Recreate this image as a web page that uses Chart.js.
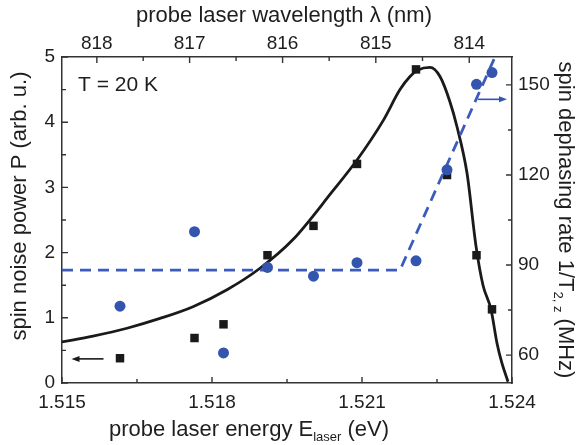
<!DOCTYPE html>
<html>
<head>
<meta charset="utf-8">
<script src="https://cdn.jsdelivr.net/npm/chart.js@4.4.1/dist/chart.umd.min.js"></script>
<style>
  html, body { margin: 0; padding: 0; background: #fff; }
  canvas { display: block; }
</style>
</head>
<body>
<canvas id="chart" width="583" height="445"></canvas>
<script>
// probe energies (eV), same for both measured quantities
const energy = [1.51616, 1.51765, 1.51823, 1.51911, 1.52003, 1.52090, 1.52208, 1.52270, 1.52329, 1.52360];
const noisePower = [0.38, 0.69, 0.90, 1.96, 2.41, 3.36, 4.81, 3.19, 1.96, 1.13];
const dephasingRate = [76.3, 101.1, 60.7, 89.2, 86.3, 90.8, 91.4, 121.7, 150.2, 154.1];

// fitted noise power curve
const fitEnergy = [1.51500, 1.51562, 1.51630, 1.51696, 1.51762, 1.51830, 1.51896, 1.51962, 1.52042, 1.52090,
                   1.52142, 1.52176, 1.52196, 1.52212, 1.52236, 1.52256, 1.52276, 1.52290, 1.52310, 1.52328,
                   1.52342, 1.52358, 1.52370, 1.52380, 1.52392];
const fitPower = [0.63, 0.72, 0.84, 0.99, 1.17, 1.43, 1.76, 2.20, 2.95, 3.42,
                  4.02, 4.50, 4.70, 4.80, 4.84, 4.70, 4.31, 3.93, 3.22, 2.10,
                  1.50, 1.13, 0.61, 0.30, 0.02];

// dashed guide for the dephasing rate
const guideEnergy = [1.51500, 1.52176, 1.52366];
const guideRate = [88.3, 88.3, 159.3];

// axis arrows [energy, value]
const powerArrow = [[1.51583, 0.37], [1.51519, 0.37]];
const rateArrow = [[1.52332, 145.2], [1.52390, 145.2]];

// ticks
const energyTicks = [1.515, 1.518, 1.521, 1.524];
const energyMinor = [1.5165, 1.5195, 1.5225];
const wavelengthTicks = [818, 817, 816, 815, 814];
const wavelengthMinor = [817.5, 816.5, 815.5, 814.5];
const powerTicks = [0, 1, 2, 3, 4, 5];
const powerMinor = [0.5, 1.5, 2.5, 3.5, 4.5];
const rateTicks = [60, 90, 120, 150];
const rateMinor = [75, 105, 135];

const HC = 1239.84; // eV nm
const FONT = "'Liberation Sans', Arial, sans-serif";
const TEXT = '#1e1e1e';
const AXIS = '#333333';
const BLUE = '#3455ad';
const BLACK = '#1a1a1a';

const pts = (xs, ys) => xs.map((x, i) => ({ x: x, y: ys[i] }));

// draws a row of text pieces (for subscripts) centred on cx,cy
function drawRuns(ctx, runs, cx, cy, angle) {
    ctx.save();
    ctx.translate(cx, cy);
    ctx.rotate(angle);
    let total = 0;
    for (let r of runs) {
        ctx.font = r.size + 'px ' + FONT;
        r.w = ctx.measureText(r.t).width;
        total += r.w;
    }
    let x = -total / 2;
    ctx.fillStyle = TEXT;
    ctx.textBaseline = 'alphabetic';
    ctx.textAlign = 'left';
    for (let r of runs) {
        ctx.font = r.size + 'px ' + FONT;
        ctx.fillText(r.t, x, r.dy || 0);
        x += r.w;
    }
    ctx.restore();
}

function drawArrow(ctx, sx, sy, ends, color) {
    let x0 = sx.getPixelForValue(ends[0][0]), y0 = sy.getPixelForValue(ends[0][1]);
    let x1 = sx.getPixelForValue(ends[1][0]), y1 = sy.getPixelForValue(ends[1][1]);
    let dir = Math.sign(x1 - x0);
    ctx.save();
    ctx.strokeStyle = color;
    ctx.fillStyle = color;
    ctx.lineWidth = 1.6;
    ctx.beginPath();
    ctx.moveTo(x0, y0);
    ctx.lineTo(x1 - dir * 5, y1);
    ctx.stroke();
    ctx.beginPath();
    ctx.moveTo(x1, y1);
    ctx.lineTo(x1 - dir * 8, y1 - 3);
    ctx.lineTo(x1 - dir * 8, y1 + 3);
    ctx.closePath();
    ctx.fill();
    ctx.restore();
}

const decorations = {
    id: 'decorations',
    afterDraw(chart) {
        const ctx = chart.ctx;
        const s = chart.scales;
        const a = chart.chartArea;

        // inward tick marks on all four sides
        ctx.save();
        ctx.strokeStyle = AXIS;
        ctx.lineWidth = 1.4;
        ctx.beginPath();
        const tick = (values, len, fn) => values.forEach(v => fn(v, len));
        const bottom = (v, len) => { let p = s.x.getPixelForValue(v); ctx.moveTo(p, a.bottom); ctx.lineTo(p, a.bottom - len); };
        const top = (l, len) => { let p = s.xTop.getPixelForValue(HC / l); ctx.moveTo(p, a.top); ctx.lineTo(p, a.top + len); };
        const left = (v, len) => { let p = s.y.getPixelForValue(v); ctx.moveTo(a.left, p); ctx.lineTo(a.left + len, p); };
        const right = (v, len) => { let p = s.y2.getPixelForValue(v); ctx.moveTo(a.right, p); ctx.lineTo(a.right - len, p); };
        tick(energyTicks, 6, bottom); tick(energyMinor, 4, bottom);
        tick(wavelengthTicks, 6, top); tick(wavelengthMinor, 4, top);
        tick(powerTicks, 6, left); tick(powerMinor, 4, left);
        tick(rateTicks, 6, right); tick(rateMinor, 4, right);
        ctx.stroke();
        ctx.restore();

        drawArrow(ctx, s.x, s.y, powerArrow, BLACK);
        drawArrow(ctx, s.x, s.y2, rateArrow, BLUE);

        // axis titles
        drawRuns(ctx, [{ t: 'probe laser energy E', size: 22 }, { t: 'laser', size: 13, dy: 5 }, { t: ' (eV)', size: 22 }], 249, 436, 0);
        drawRuns(ctx, [{ t: 'probe laser wavelength \u03bb (nm)', size: 22 }], 284, 22, 0);
        drawRuns(ctx, [{ t: 'spin noise power P (arb. u.)', size: 22 }], 26, 206, -Math.PI / 2);
        drawRuns(ctx, [{ t: 'spin dephasing rate 1/T', size: 22 }, { t: '2, z', size: 13, dy: 5 }, { t: ' (MHz)', size: 22 }], 559, 220, Math.PI / 2);

        ctx.save();
        ctx.fillStyle = TEXT;
        ctx.font = '21px ' + FONT;
        ctx.textBaseline = 'alphabetic';
        ctx.fillText('T = 20 K', 78, 91);
        ctx.restore();
    }
};

const tickFont = { family: FONT, size: 19 };
const frame = { color: AXIS, width: 1.5 };
const noGrid = { drawOnChartArea: false, drawTicks: false };

new Chart(document.getElementById('chart'), {
    type: 'scatter',
    data: {
        datasets: [
            {
                data: pts(energy, dephasingRate),
                yAxisID: 'y2',
                pointStyle: 'circle',
                pointRadius: 5.5,
                backgroundColor: BLUE,
                borderWidth: 0,
                order: 0
            },
            {
                data: pts(guideEnergy, guideRate),
                yAxisID: 'y2',
                showLine: true,
                pointRadius: 0,
                borderColor: '#3b5cbd',
                borderWidth: 2.8,
                borderDash: [11, 7],
                order: 1
            },
            {
                data: pts(energy, noisePower),
                yAxisID: 'y',
                pointStyle: 'rect',
                pointRadius: 6,
                backgroundColor: BLACK,
                borderWidth: 0,
                order: 2
            },
            {
                data: pts(fitEnergy, fitPower),
                yAxisID: 'y',
                showLine: true,
                pointRadius: 0,
                borderColor: BLACK,
                borderWidth: 2.8,
                cubicInterpolationMode: 'monotone',
                order: 3
            }
        ]
    },
    options: {
        responsive: false,
        animation: false,
        layout: { padding: 0 },
        plugins: { legend: { display: false }, tooltip: { enabled: false } },
        scales: {
            x: {
                type: 'linear', position: 'bottom', min: 1.515, max: 1.524,
                afterBuildTicks: sc => { sc.ticks = energyTicks.map(v => ({ value: v })); },
                afterFit: sc => { sc.height = 62; },
                ticks: { callback: v => v.toFixed(3), padding: 8, maxRotation: 0, autoSkip: false, font: tickFont, color: TEXT },
                grid: noGrid, border: frame
            },
            xTop: {
                type: 'linear', position: 'top', min: 1.515, max: 1.524,
                afterBuildTicks: sc => { sc.ticks = wavelengthTicks.map(l => ({ value: HC / l })); },
                afterFit: sc => { sc.height = 57; },
                ticks: { callback: v => Math.round(HC / v), padding: 2, maxRotation: 0, autoSkip: false, font: tickFont, color: TEXT },
                grid: noGrid, border: frame
            },
            y: {
                type: 'linear', position: 'left', min: 0, max: 5,
                afterBuildTicks: sc => { sc.ticks = powerTicks.map(v => ({ value: v })); },
                afterFit: sc => { sc.width = 62; },
                ticks: { padding: 7, font: tickFont, color: TEXT },
                grid: noGrid, border: frame
            },
            y2: {
                type: 'linear', position: 'right', min: 50.7, max: 159.3,
                afterBuildTicks: sc => { sc.ticks = rateTicks.map(v => ({ value: v })); },
                afterFit: sc => { sc.width = 71; },
                ticks: { padding: 6, font: tickFont, color: TEXT },
                grid: noGrid, border: frame
            }
        }
    },
    plugins: [decorations]
});
</script>
</body>
</html>
